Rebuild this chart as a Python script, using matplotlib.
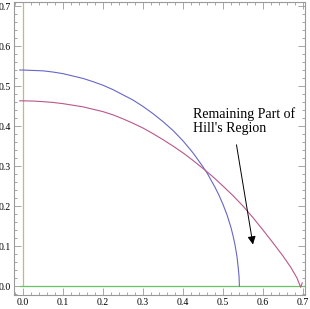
import numpy as np
import matplotlib.pyplot as plt
from matplotlib.ticker import MultipleLocator

# curves
blue_x = [-0.008, 0.0, 0.025, 0.05, 0.075, 0.1, 0.125, 0.15, 0.175, 0.2, 0.225, 0.25, 0.275, 0.3,
          0.325, 0.35, 0.375, 0.4, 0.425, 0.45, 0.46, 0.48, 0.49, 0.5, 0.51, 0.52, 0.525, 0.53,
          0.535, 0.538, 0.54, 0.541]
blue_y = [0.54, 0.54, 0.539, 0.538, 0.535, 0.531, 0.525, 0.519, 0.511, 0.502, 0.491, 0.478, 0.465, 0.449,
          0.431, 0.411, 0.389, 0.363, 0.333, 0.298, 0.283, 0.247, 0.227, 0.204, 0.178, 0.146, 0.126, 0.103,
          0.073, 0.046, 0.025, 0.0]

red_x = [-0.008, 0.0, 0.025, 0.05, 0.075, 0.1, 0.125, 0.15, 0.175, 0.2, 0.225, 0.25, 0.275, 0.3,
         0.325, 0.35, 0.375, 0.4, 0.425, 0.45, 0.475, 0.5, 0.525, 0.55, 0.575, 0.6, 0.625, 0.65,
         0.67, 0.685, 0.694, 0.698]
red_y = [0.463, 0.463, 0.4625, 0.461, 0.459, 0.456, 0.452, 0.448, 0.442, 0.436, 0.428, 0.418, 0.407, 0.395,
         0.381, 0.366, 0.35, 0.333, 0.314, 0.294, 0.273, 0.25, 0.226, 0.2, 0.171, 0.14, 0.108, 0.075,
         0.046, 0.02, -0.003, 0.008]

green_x = [-0.008, 0.705]
green_y = [0.0, 0.0]

yellow_x = [0.0, 0.0]
yellow_y = [0.0, 0.71]

label = "Remaining Part of\nHill's Region"
arrow_start = (0.5325, 0.36)
arrow_end = (0.576, 0.097)

plt.rcParams['font.family'] = ['Liberation Serif', 'DejaVu Serif']

fig = plt.figure(figsize=(3.10, 3.09), dpi=100)
ax = fig.add_axes([0.045, 0.045, 0.939, 0.9485])

ax.plot(yellow_x, yellow_y, color='#c8b878', lw=0.9)
ax.plot(green_x, green_y, color='#66c466', lw=0.9)
ax.plot(blue_x, blue_y, color='#6666c8', lw=0.8)
ax.plot(red_x, red_y, color='#b8588a', lw=0.8)

ax.annotate('', xy=arrow_end, xytext=arrow_start,
            arrowprops=dict(arrowstyle='-|>', color='black', lw=0.7, mutation_scale=12))
ax.text(0.425, 0.447, label, fontsize=10, va='top', ha='left', linespacing=1.1)

ax.set_xlim(-0.0225, 0.705)
ax.set_ylim(-0.0225, 0.71)

ax.xaxis.set_major_locator(MultipleLocator(0.1))
ax.yaxis.set_major_locator(MultipleLocator(0.1))
ax.xaxis.set_minor_locator(MultipleLocator(0.02))
ax.yaxis.set_minor_locator(MultipleLocator(0.02))
ax.xaxis.set_major_formatter(plt.FuncFormatter(lambda v, p: '%.1f' % v))
ax.yaxis.set_major_formatter(plt.FuncFormatter(lambda v, p: '%.1f' % v))

ax.tick_params(which='both', direction='in', top=True, right=True, color='#999999',
               labelsize=7, pad=2, width=0.6)
ax.tick_params(which='major', length=5)
ax.tick_params(which='minor', length=2.5)
for s in ax.spines.values():
    s.set_color('#999999')
    s.set_linewidth(0.8)

fig.savefig('out.png', dpi=100)
